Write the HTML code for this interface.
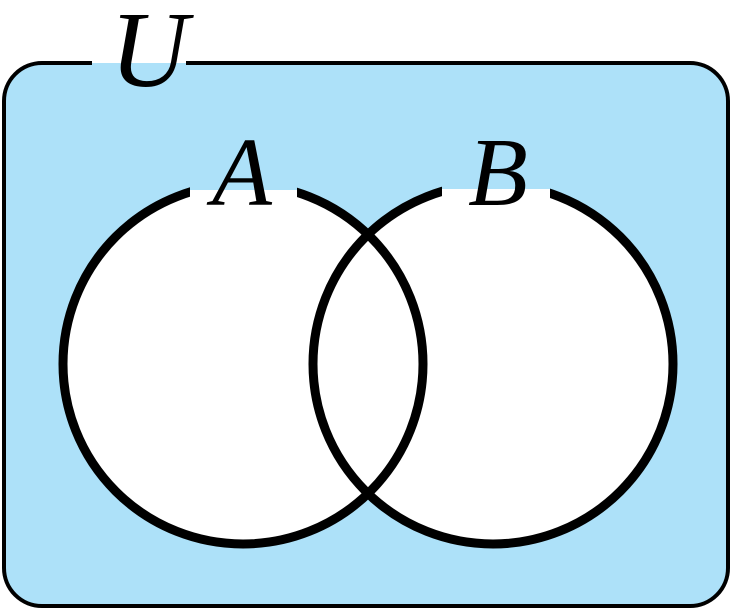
<!DOCTYPE html>
<html><head><meta charset="utf-8"><style>html,body{margin:0;padding:0;background:#fff}svg{display:block}
.t{font-family:"Liberation Serif",serif;font-style:italic;fill:#000}</style></head>
<body>
<svg width="732" height="610" viewBox="0 0 732 610" xmlns="http://www.w3.org/2000/svg">
<rect x="4" y="63" width="724" height="543" rx="38" ry="38" fill="#ADE1F9" stroke="#000" stroke-width="4"/>
<rect x="92" y="55" width="94" height="8" fill="#fff"/>
<rect x="92" y="63" width="94" height="4" fill="#ADE1F9"/>
<circle cx="243" cy="364" r="180" fill="#fff"/>
<circle cx="493" cy="364" r="180" fill="#fff"/>
<circle cx="243" cy="364" r="180" fill="none" stroke="#000" stroke-width="9"/>
<circle cx="493" cy="364" r="180" fill="none" stroke="#000" stroke-width="9"/>
<rect x="190" y="170" width="107" height="20" fill="#ADE1F9"/>
<rect x="190" y="190" width="107" height="20" fill="#fff"/>
<rect x="442" y="170" width="108" height="19" fill="#ADE1F9"/>
<rect x="442" y="189" width="108" height="21" fill="#fff"/>
<text x="110" y="86" class="t" font-size="108">U</text>
<text x="212" y="205" class="t" font-size="98">A</text>
<text x="468" y="205" class="t" font-size="98">B</text>
</svg>
</body></html>
